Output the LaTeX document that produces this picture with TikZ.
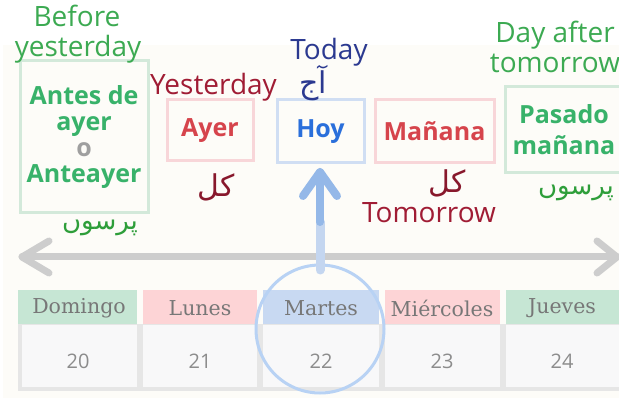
\documentclass[tikz,border=0pt]{standalone}
\usepackage{fontspec}
\usetikzlibrary{calc}
\setmainfont{Open Sans}
\newfontfamily\urdu[Script=Arabic]{DejaVu Sans}
\newfontfamily\dayfont{DejaVu Serif}
\TeXXeTstate=1
\definecolor{bgcream}{HTML}{FDFCF8}
\definecolor{lblgreen}{HTML}{3CAA52}
\definecolor{urgreen}{HTML}{2E9E3A}
\definecolor{boldgreen}{HTML}{38B26A}
\definecolor{lblred}{HTML}{A01C34}
\definecolor{boldred}{HTML}{D6444C}
\definecolor{lblnavy}{HTML}{2B3990}
\definecolor{boldblue}{HTML}{2A6FDB}
\definecolor{bordgreen}{HTML}{D3E9DA}
\definecolor{bordpink}{HTML}{F8D6D9}
\definecolor{bordblue}{HTML}{D0DEF3}
\definecolor{hdgreen}{HTML}{C6E6D4}
\definecolor{hdpink}{HTML}{FDD4D6}
\definecolor{hdblue}{HTML}{C8D9F2}
\definecolor{daytxt}{HTML}{777777}
\definecolor{numtxt}{HTML}{8C8C8C}
\definecolor{cellgrey}{HTML}{E6E6E6}
\definecolor{cellbody}{HTML}{F8F8F9}
\definecolor{arrgrey}{HTML}{CDCDCD}
\definecolor{arrblue}{HTML}{94B8E8}
\definecolor{arrblue2}{HTML}{C4D6F0}
\definecolor{circblue}{HTML}{B8D2F4}
\tikzset{
  wordbox/.style={draw, line width=3pt, inner sep=0pt, align=center,
    font=\fontsize{25}{26}\selectfont\bfseries},
  englbl/.style={anchor=base, inner sep=0pt, font=\fontsize{28}{30}\selectfont},
  urdulbl/.style={inner sep=0pt, font=\urdu\fontsize{30}{34}\selectfont},
  urdusm/.style={inner sep=0pt, font=\urdu\fontsize{26}{30}\selectfont},
  dayname/.style={inner sep=0pt, text=daytxt, font=\dayfont\fontsize{20.5}{22}\selectfont},
  daynum/.style={inner sep=0pt, text=numtxt, font=\fontsize{20}{22}\selectfont},
  greyarrow/.style={draw=arrgrey, line width=7pt, line cap=round, line join=round},
}
\begin{document}
\begin{tikzpicture}[x=1pt,y=-1pt]
\useasboundingbox (0,0) rectangle (619,398);
\fill[white] (0,0) rectangle (619,398);
\fill[bgcream] (3,45) rectangle (619,398);

% calendar
\fill[cellgrey] (18,324) rectangle (619,391);
\foreach \a/\b in {22/137,143/257,263/379,385/500,506/619}
  \fill[cellbody] (\a,325) rectangle (\b,387);
\fill[hdgreen] (18,290) rectangle (137,324);
\fill[hdpink] (143,290) rectangle (257,324);
\fill[hdblue] (263,290) rectangle (379,324);
\fill[hdpink] (385,290) rectangle (500,324);
\fill[hdgreen] (506,290) rectangle (619,324);
\node[dayname] (dom) at (79,308) {Domingo};
\node[dayname] (lun) at (200,308) {Lunes};
\node[dayname] (mar) at (321,308) {Martes};
\node[dayname] (mie) at (442,308) {Miércoles};
\node[dayname] (jue) at (562,308) {Jueves};
\node[daynum] (n20) at (78,361) {20};
\node[daynum] (n21) at (200,361) {21};
\node[daynum] (n22) at (321,361) {22};
\node[daynum] (n23) at (442,361) {23};
\node[daynum] (n24) at (562,361) {24};

% horizontal double arrow
\coordinate (hl) at (22,257);
\coordinate (hr) at (617,257);
\draw[greyarrow] (hl) -- (hr);
\draw[greyarrow] ($(hl)+(27,-16)$) -- (hl) -- ($(hl)+(27,16)$);
\draw[greyarrow] ($(hr)+(-20,-16)$) -- (hr) -- ($(hr)+(-20,16)$);

% circle
\draw[circblue, line width=3pt] (320,329) circle (64);

% boxes
\node[wordbox, draw=bordgreen, text=boldgreen, minimum width=128, minimum height=152] (antes) at (84,137)
  {Antes de\\ayer\\{\color{gray!75}o}\\Anteayer};
\node[wordbox, draw=bordpink, text=boldred, minimum width=86, minimum height=61] (ayer) at (210,130.5) {Ayer};
\node[wordbox, draw=bordblue, text=boldblue, minimum width=87, minimum height=63] (hoy) at (320.5,131.5) {Hoy};
\node[wordbox, draw=bordpink, text=boldred, minimum width=119, minimum height=63] (manana) at (434.5,131.5) {Mañana};
\node[wordbox, draw=bordgreen, text=boldgreen, minimum width=118, minimum height=86,
  font=\fontsize{25}{31}\selectfont\bfseries] (pasado) at (564,130) {Pasado\\mañana};

% vertical arrow
\coordinate (vb) at (320,270);
\coordinate (vm) at (320,222);
\coordinate (vt) at (320,172);
\draw[draw=arrblue2, line width=9pt, line cap=round] (vb) -- (vm);
\draw[draw=arrblue, line width=8pt, line cap=round, line join=round] (vm) -- (vt);
\draw[draw=arrblue, line width=8pt, line cap=round, line join=round] ($(vt)+(-17,24)$) -- (vt) -- ($(vt)+(17,24)$);

% english labels
\node[englbl, text=lblgreen] (bef1) at (77,27) {Before};
\node[englbl, text=lblgreen] (bef2) at (78,57) {yesterday};
\node[englbl, text=lblred] (yest) at (213.5,95) {Yesterday};
\node[englbl, text=lblnavy] (today) at (329,60) {Today};
\node[englbl, text=lblgreen] (daf1) at (555,43) {Day after};
\node[englbl, text=lblgreen] (daf2) at (555,73) {tomorrow};
\node[englbl, text=lblred] (tomo) at (429,223) {Tomorrow};

% urdu labels
\node[urdulbl, text=lblnavy] (aaj) at (313,83) {\beginR آج\endR};
\node[urdulbl, text=lblred!85!black] (kal1) at (216,187) {\beginR کل\endR};
\node[urdulbl, text=lblred!85!black] (kal2) at (447,183) {\beginR کل\endR};
\node[urdusm, text=urgreen] (pars1) at (100,228) {\beginR پرسوں\endR};
\node[urdusm, text=urgreen] (pars2) at (576,193) {\beginR پرسوں\endR};
\end{tikzpicture}
\end{document}
